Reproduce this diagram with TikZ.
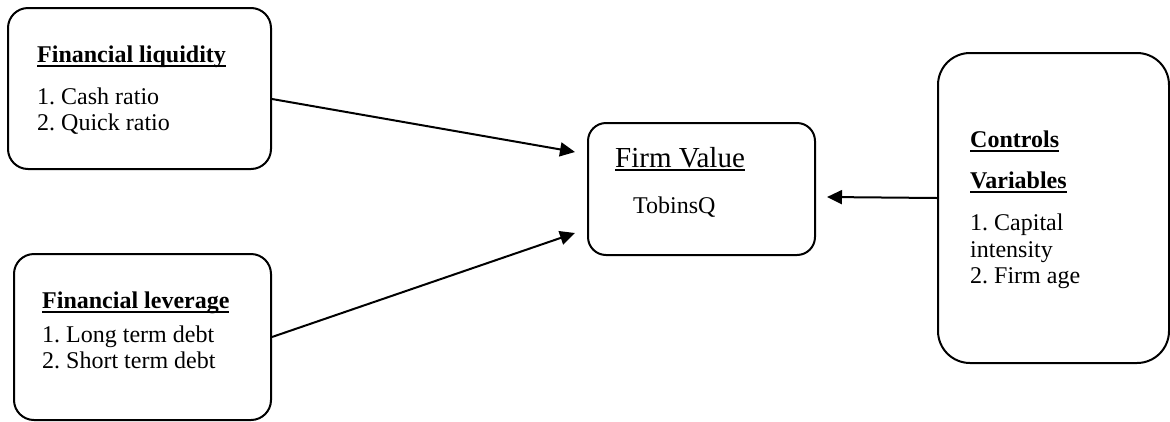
\documentclass[tikz,border=0pt]{standalone}
\usepackage{fontspec}
\setmainfont{Liberation Serif}
\usetikzlibrary{arrows.meta}
\frenchspacing
\newcommand\myul[3]{\setbox0\hbox{#3}\rlap{\rule[-#1]{\wd0}{#2}}\box0}
\tikzset{
  box/.style={draw, line width=2pt, anchor=north west, inner sep=0pt, rounded corners=#1},
  txt/.style={anchor=base west, inner sep=0pt, font=\fontsize{24}{26}\selectfont},
  conn/.style={line width=2pt, -{Triangle[length=15pt,width=14pt]}},
}
\begin{document}
\begin{tikzpicture}[x=1pt,y=-1pt]
\useasboundingbox (0,0) rectangle (1170,421);
% boxes
\node[box=20pt, minimum width=263pt, minimum height=161pt] (liq) at (7,7) {};
\node[box=20pt, minimum width=257pt, minimum height=166pt] (lev) at (13,253) {};
\node[box=18pt, minimum width=227pt, minimum height=132pt] (fv) at (587,122) {};
\node[box=32pt, minimum width=231pt, minimum height=310pt] (ctl) at (937,52) {};
% texts
\node[txt] (liqt) at (37,62) {\bfseries\myul{4.5pt}{1.8pt}{Financial liquidity}};
\node[txt] (liq1) at (37,104) {1. Cash ratio};
\node[txt] (liq2) at (37,130) {2. Quick ratio};
\node[txt] (levt) at (42,308) {\bfseries\myul{4.5pt}{1.8pt}{Financial leverage}};
\node[txt] (lev1) at (42,342) {1. Long term debt};
\node[txt] (lev2) at (42,368) {2. Short term debt};
\node[txt, font=\fontsize{29}{31}\selectfont] (fvt) at (615,167) {\myul{3.5pt}{1.4pt}{Firm Value}};
\node[txt] (fv1) at (633,213) {TobinsQ};
\node[txt] (ctlt1) at (970,147) {\bfseries\myul{4.5pt}{1.8pt}{Controls}};
\node[txt] (ctlt2) at (970,188) {\bfseries\myul{4.5pt}{1.8pt}{Variables}};
\node[txt] (ctl1) at (970,230) {1. Capital};
\node[txt] (ctl2) at (970,257) {intensity};
\node[txt] (ctl3) at (970,283) {2. Firm age};
% arrow ends
\coordinate (a1e) at (575,152);
\coordinate (a2e) at (575,233);
\coordinate (a3e) at (827,197);
\draw[conn] ([yshift=-10.5pt]liq.east) -- (a1e);
\draw[conn] (lev.east) -- (a2e);
\draw[conn] ([yshift=10pt]ctl.west) -- (a3e);
\end{tikzpicture}
\end{document}
